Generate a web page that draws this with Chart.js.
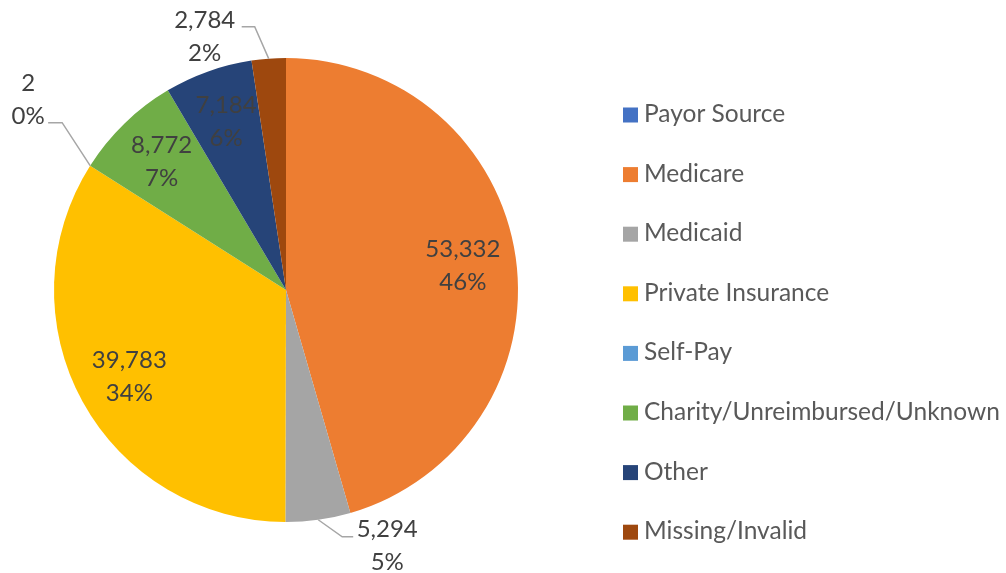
<!DOCTYPE html>
<html>
<head>
<meta charset="utf-8">
<script src="https://cdn.jsdelivr.net/npm/chart.js@4.4.1/dist/chart.umd.min.js"></script>
<style>
    html, body { margin: 0; padding: 0; background: #fff; }
    #wrap { width: 1006px; height: 573px; }
</style>
</head>
<body>
<div id="wrap"><canvas id="myChart" width="1006" height="573"></canvas></div>
<script>
const categories = [
    'Payor Source',
    'Medicare',
    'Medicaid',
    'Private Insurance',
    'Self-Pay',
    'Charity/Unreimbursed/Unknown',
    'Other',
    'Missing/Invalid'
];
const counts = [0, 53332, 5294, 39783, 2, 8772, 7184, 2784];
const sliceColors = ['#4472C4', '#ED7D31', '#A5A5A5', '#FFC000', '#5B9BD5', '#70AD47', '#264478', '#9E480E'];

const FONT = 'Lato, "Open Sans", sans-serif';

// labels that sit outside the pie, with leader lines (offsets from the slice edge)
const outsideLabels = {
    2: { label: [69, 26], elbow: [24, 17], run: 11 },
    4: { label: [-62, -66], elbow: [-28, -43], run: -14 },
    7: { label: [-64, -22], elbow: [-14, -32], run: -13 }
};

const pieLabels = {
    id: 'pieLabels',
    afterDatasetsDraw(chart) {
        const ctx = chart.ctx;
        const meta = chart.getDatasetMeta(0);
        const values = chart.data.datasets[0].data;
        const total = values.reduce((a, b) => a + b, 0);
        ctx.save();
        ctx.font = '24px ' + FONT;
        ctx.fillStyle = '#404040';
        ctx.textAlign = 'center';
        ctx.textBaseline = 'middle';
        meta.data.forEach((arc, i) => {
            const v = values[i];
            if (!v) return;
            const p = arc.getProps(['x', 'y', 'startAngle', 'endAngle', 'outerRadius'], true);
            const mid = (p.startAngle + p.endAngle) / 2;
            const line1 = v.toLocaleString('en-US');
            const line2 = Math.round(v / total * 100) + '%';
            let cx, cy;
            const out = outsideLabels[i];
            if (out) {
                const ex = p.x + Math.cos(mid) * p.outerRadius;
                const ey = p.y + Math.sin(mid) * p.outerRadius;
                const bx = ex + out.elbow[0];
                const by = ey + out.elbow[1];
                ctx.strokeStyle = '#A6A6A6';
                ctx.lineWidth = 1.5;
                ctx.beginPath();
                ctx.moveTo(ex, ey);
                ctx.lineTo(bx, by);
                ctx.lineTo(bx + out.run, by);
                ctx.stroke();
                cx = ex + out.label[0];
                cy = ey + out.label[1];
            } else {
                const r = p.outerRadius * 0.77;
                cx = p.x + Math.cos(mid) * r;
                cy = p.y + Math.sin(mid) * r;
            }
            ctx.fillText(line1, cx, cy - 16);
            ctx.fillText(line2, cx, cy + 17);
        });
        ctx.restore();
    }
};

const sideLegend = {
    id: 'sideLegend',
    afterDraw(chart) {
        const ctx = chart.ctx;
        const labels = chart.data.labels;
        const colors = chart.data.datasets[0].backgroundColor;
        ctx.save();
        ctx.font = '24.5px ' + FONT;
        ctx.textAlign = 'left';
        ctx.textBaseline = 'middle';
        labels.forEach((lab, i) => {
            const y = 115 + i * 59.6;
            ctx.fillStyle = colors[i];
            ctx.fillRect(623, y - 7.5, 15, 15);
            ctx.fillStyle = '#595959';
            ctx.fillText(lab, 644, y - 1);
        });
        ctx.restore();
    }
};

let ctx = document.getElementById('myChart').getContext('2d');

var myChart = new Chart(ctx, {
    type: 'pie',
    data: {
        labels: categories,
        datasets: [
            {
                data: counts,
                backgroundColor: sliceColors,
                borderWidth: 0
            }
        ]
    },
    options: {
        responsive: false,
        animation: false,
        events: [],
        devicePixelRatio: 1,
        layout: {
            padding: { top: 58, bottom: 51, left: 54, right: 488 }
        },
        plugins: {
            legend: { display: false },
            tooltip: { enabled: false }
        }
    },
    plugins: [pieLabels, sideLegend]
});
</script>
</body>
</html>
